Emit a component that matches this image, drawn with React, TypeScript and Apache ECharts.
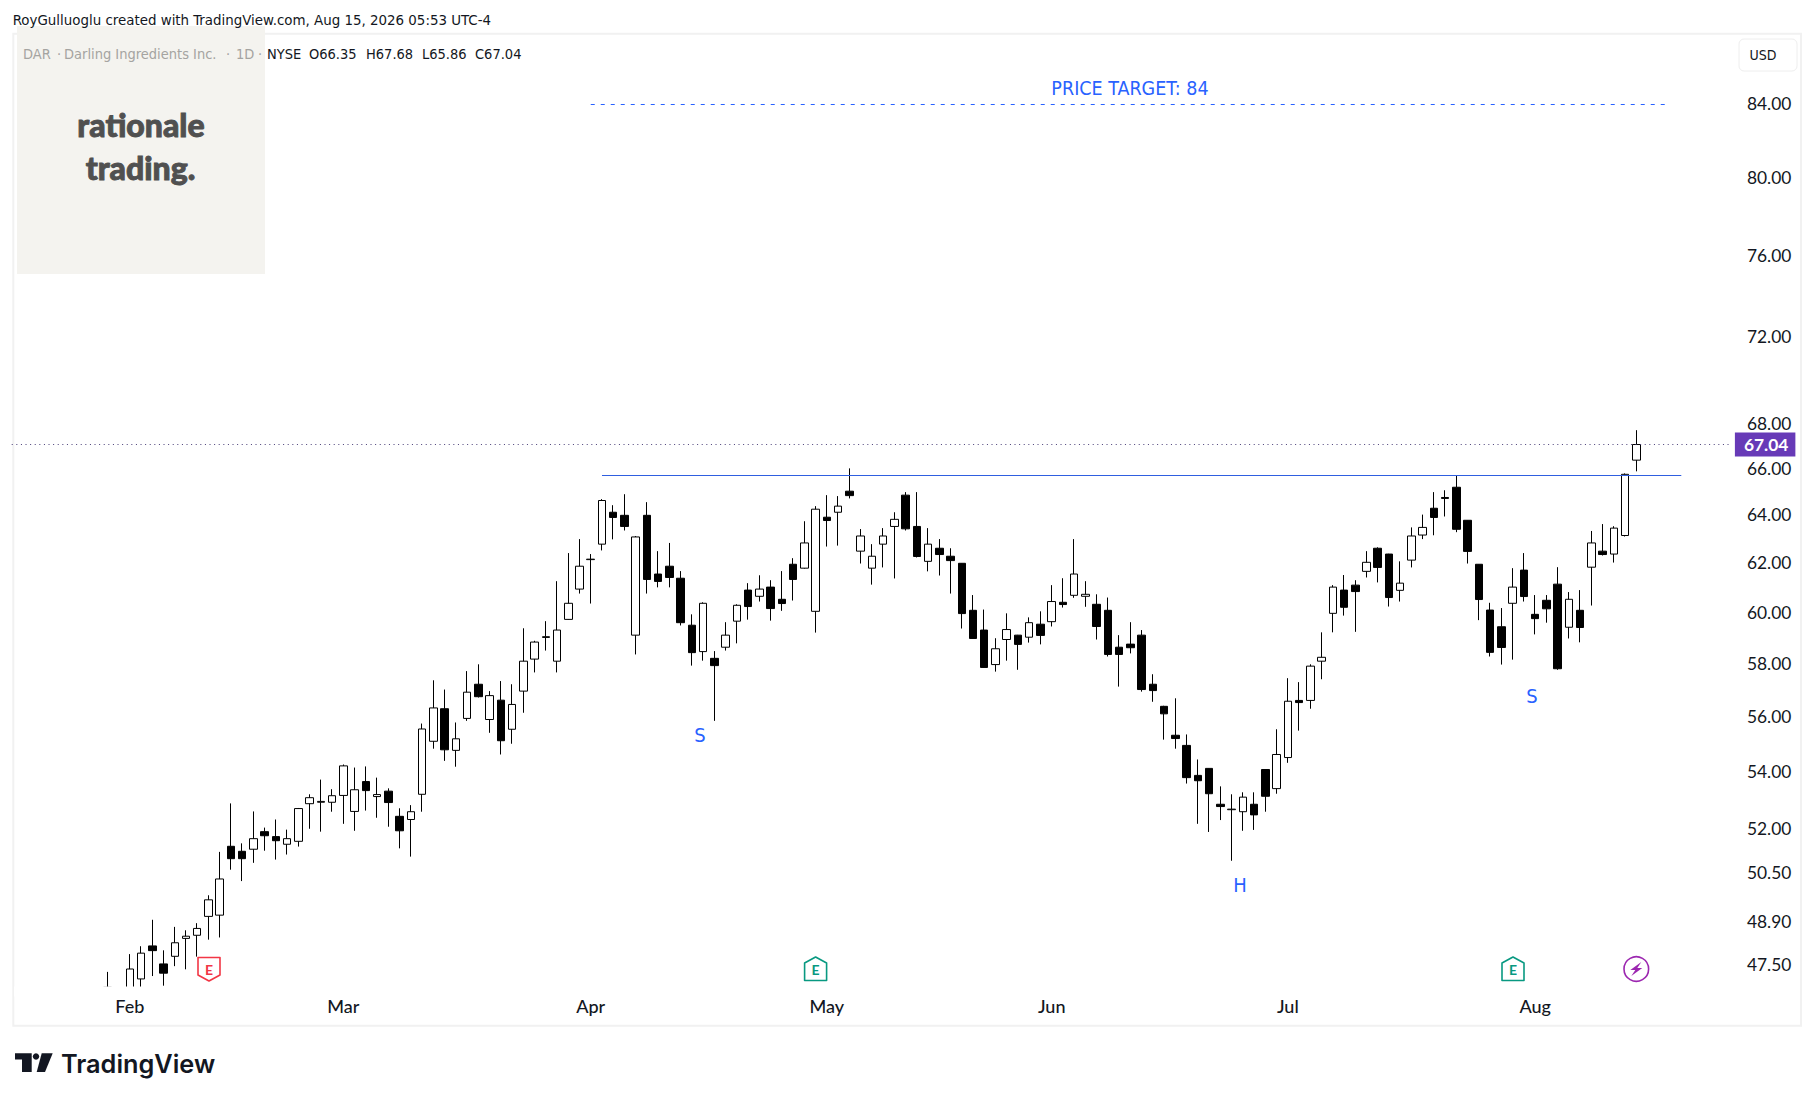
import React, { useEffect, useRef } from "react";
import * as echarts from "echarts";

const opens = [46.62,46.62,46.65,47.06,48.1,47.53,47.77,48.34,48.44,49.05,49.09,51.38,51.21,51.28,51.88,51.71,51.45,51.55,52.85,52.9,52.9,53.14,52.58,53.63,53.1,53.29,52.41,52.3,53.18,55.08,56.28,54.75,55.92,57.2,55.88,56.6,55.52,56.94,58.16,59.0,58.08,59.71,60.92,62.12,62.76,64.1,63.97,59.09,63.97,61.53,61.85,61.36,59.48,58.45,58.19,58.62,59.64,60.88,60.63,61.0,60.51,61.93,61.77,60.03,63.89,64.1,65.0,62.47,61.77,62.76,63.5,64.83,63.5,62.05,62.59,62.26,61.97,60.07,59.29,57.95,58.92,59.09,59.01,59.52,59.62,60.39,60.67,60.63,60.31,60.07,58.62,58.74,59.09,57.2,56.37,55.3,54.93,53.85,54.1,52.83,52.64,52.57,52.83,54.06,53.38,54.49,56.59,56.59,58.08,59.95,60.88,61.08,61.64,62.59,62.35,60.87,62.1,63.14,64.27,64.73,65.17,63.76,61.93,60.08,59.42,60.35,61.69,59.91,60.47,61.12,59.4,60.07,61.81,62.47,62.35,63.12,66.35];
const closes = [46.8,46.7,47.37,47.87,47.95,47.24,48.2,48.41,48.66,49.59,50.28,50.96,50.96,51.64,51.74,51.57,51.64,52.68,53.06,52.93,53.13,54.19,53.34,53.31,53.17,52.89,51.91,52.57,55.53,56.31,54.77,55.17,56.9,56.73,56.77,55.1,56.44,58.08,58.82,59.03,59.29,60.35,61.85,62.14,64.6,63.88,63.5,63.06,61.31,61.23,61.39,59.58,58.41,60.35,57.91,59.09,60.27,60.22,60.92,60.14,60.34,61.31,62.81,64.23,63.75,64.36,64.81,63.1,62.26,63.1,63.8,63.4,62.25,62.76,62.33,62.08,59.94,58.96,57.84,58.56,59.31,58.73,59.58,59.08,60.42,60.3,61.53,60.71,59.43,58.34,58.34,58.6,57.0,56.96,56.09,55.18,53.77,53.66,53.2,52.75,52.66,53.08,52.46,53.11,54.6,56.56,56.51,57.89,58.23,61.0,60.19,60.82,62.01,61.8,60.58,61.16,63.1,63.46,63.88,64.69,63.38,62.46,60.5,58.42,58.61,61.0,60.62,59.74,60.13,57.79,60.51,59.39,62.81,62.33,63.43,65.73,67.04];
const lows = [46.6,46.6,46.6,46.8,47.15,46.85,47.46,47.36,47.76,48.3,48.37,50.59,50.21,50.82,51.23,50.93,51.1,51.37,51.98,51.88,52.57,52.15,51.91,52.61,52.36,52.05,51.31,51.03,52.57,54.81,54.37,54.16,55.83,56.7,55.39,54.6,54.99,56.13,57.65,58.49,57.65,59.7,60.74,60.34,62.5,62.96,63.33,58.34,60.74,60.99,60.99,59.47,57.91,58.1,55.83,58.49,58.77,59.7,60.42,59.66,60.05,60.46,61.75,59.19,62.66,62.7,64.69,61.96,61.1,61.8,61.35,63.33,62.21,61.64,61.47,60.74,59.35,58.95,57.83,57.68,58.1,57.75,58.8,58.73,59.43,60.18,60.57,60.21,58.92,58.26,57.11,58.38,56.92,56.54,55.14,54.81,53.56,52.15,51.87,52.28,50.89,51.91,51.94,52.57,53.2,54.3,55.47,56.28,57.39,59.2,59.86,59.22,61.39,61.19,60.22,60.42,61.8,62.97,63.13,63.92,63.26,61.96,59.68,58.26,57.95,58.14,60.42,59.12,59.58,57.75,58.96,58.81,60.26,62.29,62.0,63.08,65.86];
const highs = [47.28,46.75,47.84,48.09,48.94,47.96,48.71,48.6,48.83,49.74,51.19,52.86,51.48,52.58,52.02,52.3,51.95,52.7,53.18,53.7,53.36,54.24,54.13,54.17,53.77,53.39,52.69,52.8,55.73,57.35,57.0,55.77,57.7,57.96,56.94,57.32,57.2,59.36,58.87,59.64,61.24,62.39,62.97,62.35,64.66,64.4,64.87,63.1,64.53,62.47,62.81,61.65,59.91,60.39,58.47,59.6,60.31,61.16,61.48,61.28,61.65,62.18,63.72,64.36,64.83,64.79,65.99,63.39,62.76,63.43,64.1,64.96,64.96,63.43,62.97,62.59,61.98,60.68,60.1,58.97,59.95,59.1,59.79,60.03,61.08,61.36,62.97,61.24,60.71,60.58,59.09,59.6,59.29,57.58,56.39,56.67,55.33,54.42,54.11,53.46,53.18,53.25,53.25,54.07,55.52,57.43,57.28,57.96,59.2,61.08,61.49,61.28,62.47,62.63,62.36,62.05,63.46,64.0,64.96,65.04,65.69,63.77,61.94,60.37,60.16,61.77,62.39,60.68,60.68,61.81,60.8,60.88,63.31,63.6,63.51,65.77,67.68];

const priceTicks = [84, 80, 76, 72, 68, 66, 64, 62, 60, 58, 56, 54, 52, 50.5, 48.9, 47.5];
const monthNames = ["Feb", "Mar", "Apr", "May", "Jun", "Jul", "Aug"];
const monthIndex = [2, 21, 43, 64, 84, 105, 127];
const leadPad = 8;
const trailPad = 8;
const targetPrice = 84;
const necklinePrice = 65.68;
const lastPrice = 67.04;
const legendGrey = ["DAR", "·", "Darling Ingredients Inc.", "·", "1D", "·"];
const legendGreyX = [23, 57, 64, 226, 236, 258];
const legendDark = ["NYSE", "O66.35", "H67.68", "L65.86", "C67.04"];
const legendDarkX = [267, 309, 366, 422, 475];

const FONT = "'DejaVu Sans Condensed', 'DejaVu Sans', sans-serif";
const FONT2 = "Lato, sans-serif";
const BLUE = "#2962ff";

export default function App() {
  const ref = useRef<HTMLDivElement>(null);
  useEffect(() => {
    document.body.style.margin = "0";
    const chart = echarts.init(ref.current!, null, { renderer: "svg" });
    const total = leadPad + opens.length + trailPad;
    const categories = Array.from({ length: total }, () => "");
    monthIndex.forEach((m, k) => (categories[leadPad + m] = monthNames[k]));
    const blank = ["-", "-", "-", "-"];
    const candles = [
      ...Array(leadPad).fill(blank),
      ...opens.map((o, i) => [o, closes[i], lows[i], highs[i]]),
      ...Array(trailPad).fill(blank),
    ];
    const earnings = (cx: number, cy: number, color: string, up: boolean) => ({
      type: "group",
      children: [
        {
          type: "polygon",
          shape: {
            points: up
              ? [[cx, cy - 12], [cx + 11, cy - 6], [cx + 11, cy + 11.5], [cx - 11, cy + 11.5], [cx - 11, cy - 6]]
              : [[cx - 11, cy - 11.5], [cx + 11, cy - 11.5], [cx + 11, cy + 6], [cx, cy + 12], [cx - 11, cy + 6]],
          },
          style: { fill: "#fff", stroke: color, lineWidth: 1.6, lineJoin: "round" },
        },
        {
          type: "text",
          style: {
            x: cx, y: cy, text: "E", fill: color, font: `700 14px ${FONT2}`,
            align: "center", verticalAlign: "middle",
          },
        },
      ],
    });
    const note = (x: number, y: number, text: string, size = 19.5) => ({
      type: "text",
      style: { x, y, text, fill: BLUE, font: `${size}px ${FONT}`, align: "center", verticalAlign: "middle" },
    });
    const legendText = (x: number, text: string, fill: string, z: number) => ({
      type: "text", z,
      style: { x, y: 53.5, text, fill, font: `14.5px ${FONT}`, verticalAlign: "middle" },
    });
    const bx = 1636.3, by = 969;
    chart.setOption({
      animation: false,
      backgroundColor: "#ffffff",
      grid: { left: 11.73, right: 1814 - 1731.9, top: 33, bottom: 1101 - 986, containLabel: false },
      xAxis: {
        type: "category",
        data: categories,
        boundaryGap: true,
        axisLine: { show: false },
        axisTick: { show: false },
        splitLine: { show: false },
        axisLabel: {
          interval: 0, hideOverlap: false, color: "#131722", fontFamily: FONT2, fontSize: 18,
          fontWeight: 500, margin: 11,
        },
      },
      yAxis: {
        type: "log",
        logBase: 10,
        position: "right",
        min: 46.84,
        max: 88.04,
        axisLine: { show: false },
        axisTick: { show: false },
        splitLine: { show: false },
        minorTick: { show: false },
        axisLabel: {
          customValues: priceTicks,
          color: "#131722",
          fontFamily: FONT2,
          fontSize: 17.4,
          margin: 15,
          padding: [0, 0, 1, 0],
          formatter: (v: number) => v.toFixed(2),
        },
      },
      series: [
        {
          type: "candlestick",
          data: candles,
          barWidth: 8,
          clip: true,
          itemStyle: {
            color: "#ffffff", color0: "#000000", borderColor: "#000000", borderColor0: "#000000", borderWidth: 1,
          },
          markLine: {
            silent: true,
            symbol: "none",
            animation: false,
            data: [
              {
                yAxis: lastPrice,
                lineStyle: { color: "#4a3f78", type: [1, 3.6], width: 1 },
                label: {
                  show: true, position: "end", distance: 3, formatter: lastPrice.toFixed(2), color: "#fff",
                  backgroundColor: "#673ab7", fontFamily: FONT2, fontWeight: 700, fontSize: 17.4,
                  padding: [4, 7, 3, 9],
                },
              },
              [
                { coord: [leadPad + 44, necklinePrice], lineStyle: { color: "#2f5fe0", type: "solid", width: 1 }, label: { show: false } },
                { coord: [leadPad + 140, necklinePrice] },
              ],
              [
                { coord: [leadPad + 43, targetPrice], lineStyle: { color: BLUE, type: [4, 6], width: 1 }, label: { show: false } },
                { coord: [leadPad + 139, targetPrice] },
              ],
            ],
          },
        },
      ],
      graphic: [
        { type: "rect", shape: { x: 13.3, y: 33.8, width: 1787.7, height: 992 }, style: { fill: "none", stroke: "#f1f1f1", lineWidth: 2 }, z: -1 },
        { type: "rect", shape: { x: 14, y: 986.5, width: 280, height: 10 }, style: { fill: "#ffffff" }, z: 10 },
        { type: "rect", shape: { x: 17, y: 26, width: 248, height: 248 }, style: { fill: "#f4f3ef" }, z: 5 },
        { type: "text", z: 6, style: { x: 141, y: 124.5, text: "rationale", fill: "#505050", stroke: "#505050", lineWidth: 0.9, font: `900 32px ${FONT2}`, align: "center", verticalAlign: "middle" } },
        { type: "text", z: 6, style: { x: 140.5, y: 167, text: "trading.", fill: "#505050", stroke: "#505050", lineWidth: 0.9, font: `900 32px ${FONT2}`, align: "center", verticalAlign: "middle" } },
        { type: "text", z: 6, style: { x: 12.7, y: 19.5, text: "RoyGulluoglu created with TradingView.com, Aug 15, 2026 05:53 UTC-4", fill: "#131722", font: `14.9px ${FONT}`, verticalAlign: "middle" } },
        ...legendGrey.map((t, i) => legendText(legendGreyX[i], t, "#a5a4a1", 6)),
        ...legendDark.map((t, i) => legendText(legendDarkX[i], t, "#131722", 6)),
        { type: "rect", shape: { x: 1739, y: 39, width: 58, height: 32, r: 5 }, style: { fill: "#fff", stroke: "#eeeeee", lineWidth: 1 } },
        { type: "text", style: { x: 1763, y: 54.5, text: "USD", fill: "#131722", font: `14px ${FONT}`, align: "center", verticalAlign: "middle" } },
        note(1130, 88, "PRICE TARGET: 84"),
        note(700, 735, "S", 20),
        note(1240, 885, "H", 20),
        note(1532, 696, "S", 20),
        earnings(209, 969, "#f23645", false),
        earnings(815.6, 969, "#089981", true),
        earnings(1513, 969, "#089981", true),
        { type: "circle", shape: { cx: bx, cy: by, r: 12.3 }, style: { fill: "#fff", stroke: "#9c27b0", lineWidth: 1.6 } },
        {
          type: "polygon",
          shape: { points: [[bx + 5, by - 7], [bx - 6, by + 1], [bx - 1, by + 1], [bx - 5, by + 7], [bx + 6, by - 1], [bx + 1, by - 1]] },
          style: { fill: "#9c27b0" },
        },
        { type: "polygon", shape: { points: [[15, 1053.3], [31.7, 1053.3], [31.7, 1072], [22, 1072], [22, 1059.5], [15, 1059.5]] }, style: { fill: "#131722" } },
        { type: "circle", shape: { cx: 36, cy: 1056.5, r: 3.2 }, style: { fill: "#131722" } },
        { type: "polygon", shape: { points: [[41.7, 1053.3], [52.7, 1053.3], [45, 1072], [36.7, 1072]] }, style: { fill: "#131722" } },
        { type: "text", style: { x: 61, y: 1063, text: "TradingView", fill: "#131722", font: `600 25.3px Inter, ${FONT2}`, verticalAlign: "middle" } },
      ],
    });
    return () => chart.dispose();
  }, []);
  return <div ref={ref} style={{ position: "absolute", left: 0, top: 0, width: 1814, height: 1101 }} />;
}
